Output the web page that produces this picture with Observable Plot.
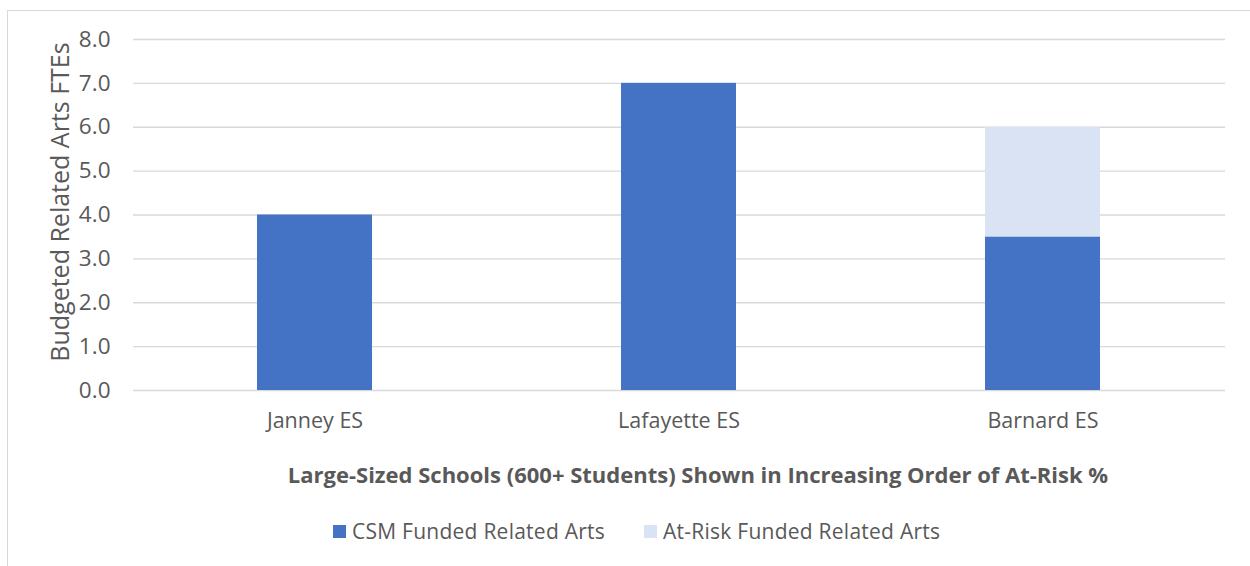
<!DOCTYPE html>
<html><head><meta charset="utf-8">
<script src="https://cdn.jsdelivr.net/npm/d3@7"></script>
<script src="https://cdn.jsdelivr.net/npm/@observablehq/plot@0.6"></script>
<style>
body{margin:0;background:#fff;font-family:"Open Sans",sans-serif;}
#wrap{position:relative;width:1250px;height:566px;overflow:hidden;}
#frame{position:absolute;left:7px;top:10px;width:1260px;height:600px;border-left:1px solid #d9d9d9;border-top:1px solid #d9d9d9;}
#chart{position:absolute;left:0;top:0;}
#xtitle{position:absolute;left:0;width:1250px;top:459px;text-align:center;padding-left:146px;box-sizing:border-box;font-weight:bold;font-size:22px;color:#595959;line-height:30px;}
#legend{position:absolute;top:516px;left:333px;font-size:21px;color:#595959;display:flex;align-items:center;line-height:30px;}
.sw{display:inline-block;width:13px;height:13px;margin-right:6px;}
.item{display:flex;align-items:center;margin-right:39px;}
.item + .item{margin-left:0;}
.item2{letter-spacing:0.25px;}
</style></head>
<body><div id="wrap"><div id="frame"></div><div id="chart"></div>
<div id="xtitle">Large-Sized Schools (600+ Students) Shown in Increasing Order of At-Risk %</div>
<div id="legend"></div></div>
<script>
const schools = ["Janney ES", "Lafayette ES", "Barnard ES"];
const csmFunded = [4.0, 7.0, 3.5];
const atRiskFunded = [0, 0, 2.5];
const seriesNames = ["CSM Funded Related Arts", "At-Risk Funded Related Arts"];
const seriesColors = ["#4472c4", "#dae3f3"];
const yTicks = [0, 1, 2, 3, 4, 5, 6, 7, 8];

const data = [];
schools.forEach((s, i) => {
  data.push({school: s, series: seriesNames[0], value: csmFunded[i]});
  data.push({school: s, series: seriesNames[1], value: atRiskFunded[i]});
});

const chart = Plot.plot({
  width: 1250, height: 450,
  marginTop: 39, marginBottom: 60, marginLeft: 133, marginRight: 25,
  style: {fontFamily: "'Open Sans', sans-serif", fontSize: "18px", color: "#595959", background: "transparent", overflow: "visible"},
  x: {domain: schools, paddingInner: 0.684, paddingOuter: 0.342, label: null},
  y: {domain: [0, 8], label: null},
  color: {domain: seriesNames, range: seriesColors},
  marks: [
    Plot.gridY(yTicks, {stroke: "#d9d9d9", strokeOpacity: 1, strokeWidth: 1.3}),
    Plot.barY(data, Plot.stackY({x: "school", y: "value", fill: "series", order: seriesNames})),
    Plot.axisY({ticks: yTicks, tickSize: 0, tickPadding: 23, tickFormat: d => d.toFixed(1), label: null, fill: "#595959", fontSize: 22.5}),
    Plot.axisX({tickSize: 0, tickPadding: 22, label: null, fill: "#595959", fontSize: 21.5}),
    Plot.text(["Budgeted Related Arts FTEs"], {frameAnchor: "left", textAnchor: "middle", dx: -73, dy: -13, rotate: -90, fill: "#595959", fontSize: 25})
  ]
});
document.getElementById("chart").appendChild(chart);

const leg = document.getElementById("legend");
seriesNames.forEach((n, i) => {
  const it = document.createElement("span");
  it.className = "item";
  it.innerHTML = `<span class="sw" style="background:${seriesColors[i]}"></span><span class="item2">${n}</span>`;
  leg.appendChild(it);
});
</script></body></html>
